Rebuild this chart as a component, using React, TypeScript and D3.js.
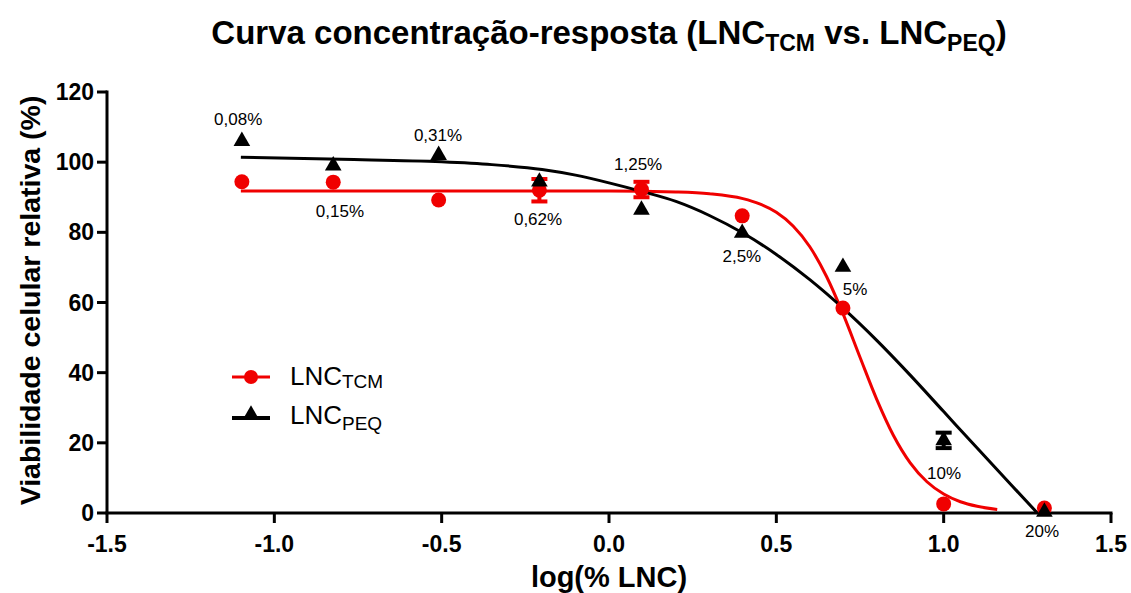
import { scaleLinear, line, curveMonotoneX, symbol, symbolTriangle } from "d3";

// concentrations (log10 of % LNC) and their labels
const logConc = [-1.097, -0.824, -0.509, -0.208, 0.097, 0.398, 0.699, 1.0, 1.301];
const concLabels = ["0,08%", "0,15%", "0,31%", "0,62%", "1,25%", "2,5%", "5%", "10%", "20%"];
const labelX = [-1.108, -0.804, -0.511, -0.212, 0.087, 0.397, 0.735, 1.001, 1.294];
const labelY = [110.6, 84.4, 106, 82.1, 97.8, 71.6, 62.1, 9.7, -6.8];

// LNC TCM (red circles)
const tcmMean = [94.4, 94.3, 89.2, 92.0, 92.2, 84.7, 58.4, 2.6, 1.4];
const tcmErr = [0, 0, 0, 3.2, 2.2, 0, 0, 0, 0];
// LNC PEQ (black triangles)
const peqMean = [106, 99.0, 102, 94.4, 86.4, 79.8, 70.1, 20.7, 0.3];
const peqErr = [0, 0, 0, 0, 0, 0, 0, 2.2, 0];

// fitted curves
const tcmCurveX = [-1.1, -0.5, 0, 0.2, 0.3, 0.4, 0.45, 0.5, 0.55, 0.6, 0.65, 0.7, 0.75, 0.8, 0.85, 0.9, 0.95, 1.0, 1.05, 1.1, 1.16];
const tcmCurveY = [91.8, 91.8, 91.8, 91.5, 91.0, 89.6, 88.1, 85.7, 81.8, 75.9, 67.4, 56.6, 44.4, 32.4, 22.1, 14.3, 8.9, 5.4, 3.2, 1.9, 1.0];
const peqCurveX = [-1.1, -0.8, -0.5, -0.35, -0.2, -0.1, 0, 0.1, 0.2, 0.3, 0.4, 0.5, 0.6, 0.7, 0.8, 0.9, 1.0, 1.1, 1.2, 1.28];
const peqCurveY = [101.4, 100.8, 100.1, 99.3, 97.9, 96.3, 94.1, 91.6, 88.8, 84.8, 79.8, 73.7, 66.5, 58.3, 49.2, 39.3, 28.9, 18.5, 8.2, 0];

const xTicks = [-1.5, -1.0, -0.5, 0, 0.5, 1.0, 1.5];
const xTickLabels = ["-1.5", "-1.0", "-0.5", "0.0", "0.5", "1.0", "1.5"];
const yTicks = [0, 20, 40, 60, 80, 100, 120];

const RED = "#f00000";
const FONT = "'Liberation Sans', Arial, sans-serif";

export default function App() {
  const width = 1131;
  const height = 593;
  const x = scaleLinear([-1.5, 1.5], [107, 1111]);
  const y = scaleLinear([0, 120], [513, 92]);

  const tcmPath = line<number>((d) => x(d), (_, i) => y(tcmCurveY[i])).curve(curveMonotoneX)(tcmCurveX);
  const peqPath = line<number>((d) => x(d), (_, i) => y(peqCurveY[i])).curve(curveMonotoneX)(peqCurveX);

  const tri = symbol(symbolTriangle, 120)();
  const triSmall = symbol(symbolTriangle, 100)();

  const errBar = (cx: number, m: number, e: number, color: string, key: string) => (
    <g key={key} stroke={color} strokeWidth={4}>
      <line x1={x(cx)} x2={x(cx)} y1={y(m - e)} y2={y(m + e)} />
      <line x1={x(cx) - 8} x2={x(cx) + 8} y1={y(m + e)} y2={y(m + e)} />
      <line x1={x(cx) - 8} x2={x(cx) + 8} y1={y(m - e)} y2={y(m - e)} />
    </g>
  );

  return (
    <svg width={width} height={height} style={{ position: "absolute", left: 0, top: 0, background: "#fff" }} fontFamily={FONT}>
      {/* title */}
      <text x={609} y={44} textAnchor="middle" fontSize={33} fontWeight="bold">
        Curva concentração-resposta (LNC
        <tspan fontSize={23} dy={7}>TCM</tspan>
        <tspan dy={-7}> vs. LNC</tspan>
        <tspan fontSize={23} dy={7}>PEQ</tspan>
        <tspan dy={-7}>)</tspan>
      </text>

      {/* axes */}
      <g stroke="#000" strokeWidth={3}>
        <line x1={x(-1.5)} x2={x(-1.5)} y1={y(120) - 1.5} y2={y(0)} />
        <line x1={x(-1.5) - 1.5} x2={x(1.5) + 1.5} y1={y(0)} y2={y(0)} />
        {yTicks.map((t) => (
          <line key={"yt" + t} x1={x(-1.5) - 10} x2={x(-1.5)} y1={y(t)} y2={y(t)} />
        ))}
        {xTicks.map((t) => (
          <line key={"xt" + t} x1={x(t)} x2={x(t)} y1={y(0)} y2={y(0) + 10} />
        ))}
      </g>
      {yTicks.map((t) => (
        <text key={"yl" + t} x={x(-1.5) - 13} y={y(t) + 8} textAnchor="end" fontSize={23} fontWeight="bold">
          {t}
        </text>
      ))}
      {xTicks.map((t, i) => (
        <text key={"xl" + t} x={x(t)} y={y(0) + 39} textAnchor="middle" fontSize={23} fontWeight="bold">
          {xTickLabels[i]}
        </text>
      ))}
      <text x={609} y={587} textAnchor="middle" fontSize={29} fontWeight="bold">
        log(% LNC)
      </text>
      <text transform={`translate(40,${(y(0) + y(120)) / 2 - 2}) rotate(-90)`} textAnchor="middle" fontSize={28.5} fontWeight="bold">
        Viabilidade celular relativa (%)
      </text>

      {/* fitted curves */}
      <path d={tcmPath ?? ""} fill="none" stroke={RED} strokeWidth={3} />
      <path d={peqPath ?? ""} fill="none" stroke="#000" strokeWidth={3} />

      {/* error bars */}
      {logConc.map((c, i) => (tcmErr[i] > 0 ? errBar(c, tcmMean[i], tcmErr[i], RED, "te" + i) : null))}
      {logConc.map((c, i) => (peqErr[i] > 0 ? errBar(c, peqMean[i], peqErr[i], "#000", "pe" + i) : null))}

      {/* points */}
      {logConc.map((c, i) => (
        <circle key={"tc" + i} cx={x(c)} cy={y(tcmMean[i])} r={7.5} fill={RED} />
      ))}
      {logConc.map((c, i) => (
        <path key={"pt" + i} d={tri ?? ""} transform={`translate(${x(c)},${y(peqMean[i])})`} fill="#000" />
      ))}

      {/* concentration labels */}
      {concLabels.map((s, i) => (
        <text key={"cl" + i} x={x(labelX[i])} y={y(labelY[i])} textAnchor="middle" fontSize={17}>
          {s}
        </text>
      ))}

      {/* legend */}
      <g>
        <line x1={232} x2={270} y1={377} y2={377} stroke={RED} strokeWidth={3} />
        <circle cx={251} cy={377} r={7} fill={RED} />
        <text x={290} y={385} fontSize={26}>
          LNC<tspan fontSize={19} dy={3}>TCM</tspan>
        </text>
        <line x1={232} x2={270} y1={418} y2={418} stroke="#000" strokeWidth={4} />
        <path d={triSmall ?? ""} transform="translate(251,414)" fill="#000" />
        <text x={290} y={424} fontSize={26}>
          LNC<tspan fontSize={19} dy={6}>PEQ</tspan>
        </text>
      </g>
    </svg>
  );
}
